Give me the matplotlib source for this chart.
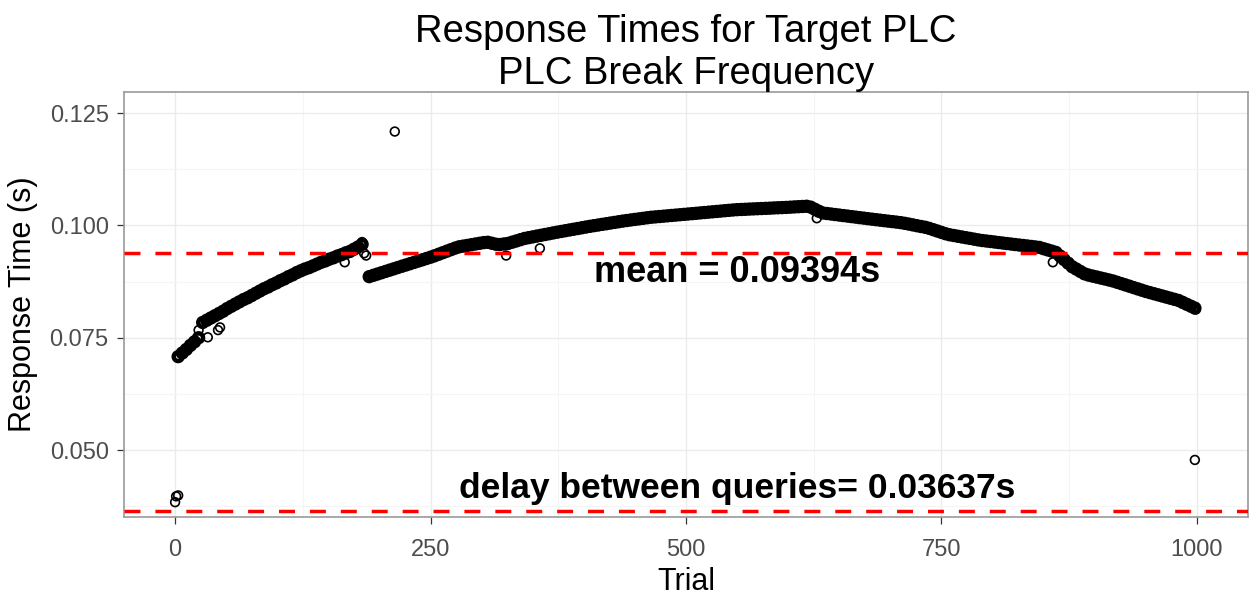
import matplotlib
matplotlib.use("Agg")
import matplotlib.pyplot as plt
import numpy as np

plt.rcParams['font.family'] = ['Liberation Sans', 'DejaVu Sans']

# --- data (trial index -> response time in s) ---
# first short piece at the very start
early_low_trials = np.arange(3, 24, 4)
early_low_rt = [0.0708, 0.0716, 0.0724, 0.0733, 0.0741, 0.0750]

# first rising piece, up to the gap around trial 185
early_trials = np.arange(27, 184, 4)
early_rt = [0.0784, 0.0789, 0.0794, 0.0799, 0.0804, 0.0809, 0.0815, 0.0820, 0.0825, 0.0830,
            0.0835, 0.0839, 0.0844, 0.0849, 0.0854, 0.0859, 0.0863, 0.0868, 0.0872, 0.0877,
            0.0881, 0.0886, 0.0890, 0.0895, 0.0899, 0.0903, 0.0906, 0.0910, 0.0914, 0.0918,
            0.0921, 0.0925, 0.0928, 0.0932, 0.0935, 0.0939, 0.0942, 0.0947, 0.0952, 0.0958]

# main arc, trial 190 to the end
main_trials = np.arange(190, 999, 4)
main_rt = [0.08860, 0.08889, 0.08918, 0.08947, 0.08976, 0.09005, 0.09034, 0.09063, 0.09092, 0.09120,
           0.09149, 0.09178, 0.09207, 0.09235, 0.09264, 0.09293, 0.09325, 0.09359, 0.09393, 0.09427,
           0.09461, 0.09495, 0.09524, 0.09540, 0.09555, 0.09571, 0.09587, 0.09602, 0.09618, 0.09625,
           0.09603, 0.09581, 0.09576, 0.09588, 0.09600, 0.09628, 0.09655, 0.09683, 0.09710, 0.09728,
           0.09745, 0.09763, 0.09780, 0.09798, 0.09815, 0.09833, 0.09850, 0.09866, 0.09883, 0.09899,
           0.09915, 0.09931, 0.09948, 0.09964, 0.09980, 0.09995, 0.10009, 0.10024, 0.10038, 0.10053,
           0.10067, 0.10082, 0.10096, 0.10109, 0.10122, 0.10134, 0.10146, 0.10158, 0.10171, 0.10182,
           0.10190, 0.10198, 0.10206, 0.10214, 0.10222, 0.10230, 0.10238, 0.10246, 0.10254, 0.10262,
           0.10270, 0.10279, 0.10287, 0.10295, 0.10303, 0.10311, 0.10319, 0.10328, 0.10336, 0.10344,
           0.10351, 0.10355, 0.10359, 0.10364, 0.10368, 0.10372, 0.10376, 0.10380, 0.10384, 0.10389,
           0.10393, 0.10397, 0.10401, 0.10406, 0.10412, 0.10417, 0.10422, 0.10427, 0.10407, 0.10361,
           0.10315, 0.10277, 0.10265, 0.10254, 0.10242, 0.10231, 0.10219, 0.10208, 0.10196, 0.10185,
           0.10173, 0.10162, 0.10150, 0.10139, 0.10128, 0.10117, 0.10106, 0.10095, 0.10085, 0.10074,
           0.10063, 0.10047, 0.10030, 0.10012, 0.09994, 0.09976, 0.09959, 0.09935, 0.09905, 0.09875,
           0.09845, 0.09815, 0.09792, 0.09776, 0.09759, 0.09743, 0.09727, 0.09711, 0.09694, 0.09678,
           0.09664, 0.09653, 0.09642, 0.09631, 0.09619, 0.09608, 0.09597, 0.09586, 0.09575, 0.09564,
           0.09554, 0.09543, 0.09532, 0.09521, 0.09510, 0.09482, 0.09455, 0.09428, 0.09400, 0.09320,
           0.09240, 0.09160, 0.09080, 0.09028, 0.08975, 0.08923, 0.08894, 0.08872, 0.08851, 0.08829,
           0.08808, 0.08786, 0.08763, 0.08734, 0.08705, 0.08676, 0.08647, 0.08617, 0.08588, 0.08559,
           0.08530, 0.08505, 0.08480, 0.08455, 0.08430, 0.08405, 0.08380, 0.08355, 0.08330, 0.08288,
           0.08245, 0.08203, 0.08160]

# stray points off the band
outlier_trials = [0, 1, 3, 23, 32, 42, 44, 166, 183, 185, 187, 215, 324, 357, 628, 859, 998, 999]
outlier_rt = [0.0384, 0.0397, 0.0399, 0.0767, 0.0751, 0.0767, 0.0773, 0.0918, 0.0963, 0.0938,
              0.0933, 0.1209, 0.0933, 0.0949, 0.1016, 0.0918, 0.0478, 0.0813]

mean_rt = 0.09394
delay = 0.03637

x_ticks = [0, 250, 500, 750, 1000]
y_ticks = [0.050, 0.075, 0.100, 0.125]
y_tick_labels = ["0.050", "0.075", "0.100", "0.125"]

# --- figure ---
W, H = 1249, 598
fig = plt.figure(figsize=(W / 100, H / 100), dpi=100)
ax = fig.add_axes([124 / W, 1 - 517 / H, (1248 - 124) / W, (517 - 92) / H])

ax.set_xlim(-50, 1050)
ax.set_ylim(0.0351, 0.1297)

ax.set_xticks(x_ticks)
ax.set_xticks([125, 375, 625, 875], minor=True)
ax.set_yticks(y_ticks)
ax.set_yticklabels(y_tick_labels)
ax.set_yticks([0.0375, 0.0625, 0.0875, 0.1125], minor=True)
ax.grid(which='major', color='#ebebeb', lw=1.0)
ax.grid(which='minor', color='#f5f5f5', lw=0.8)
ax.set_axisbelow(True)

ax.tick_params(which='major', length=5, width=0.9, color='#333333',
               labelsize=17, labelcolor='#4d4d4d', pad=6)
ax.tick_params(axis='x', which='major', pad=11)
ax.tick_params(which='minor', length=0)
for s in ax.spines.values():
    s.set_color('#999999')
    s.set_linewidth(1.2)

# band points: heavy rings so the dense series reads as a solid band
band_kw = dict(s=6.4 ** 2, facecolors='none', edgecolors='black', linewidths=3.2, zorder=3)
ax.scatter(early_low_trials, early_low_rt, **band_kw)
ax.scatter(early_trials, early_rt, **band_kw)
ax.scatter(main_trials, main_rt, **band_kw)
ax.scatter(outlier_trials, outlier_rt, s=6.3 ** 2, facecolors='none',
           edgecolors='black', linewidths=1.2, zorder=3)

ax.axhline(mean_rt, color='#ff0000', lw=2.5, dashes=(4.6, 4.3), zorder=4)
ax.axhline(delay, color='#ff0000', lw=2.5, dashes=(4.6, 4.3), zorder=4)

ax.text(550, 0.0873, "mean = %.5fs" % mean_rt, fontsize=26, fontweight='bold',
        ha='center', va='baseline', zorder=5)
ax.text(550, 0.0394, "delay between queries= %.5fs" % delay, fontsize=25.5,
        fontweight='bold', ha='center', va='baseline', zorder=5)

ax.set_title("Response Times for Target PLC\nPLC Break Frequency", fontsize=27.5, pad=6)
ax.set_xlabel("Trial", fontsize=22, labelpad=4)
ax.set_ylabel("Response Time (s)", fontsize=22, labelpad=8)

fig.savefig("out.png", dpi=100)
